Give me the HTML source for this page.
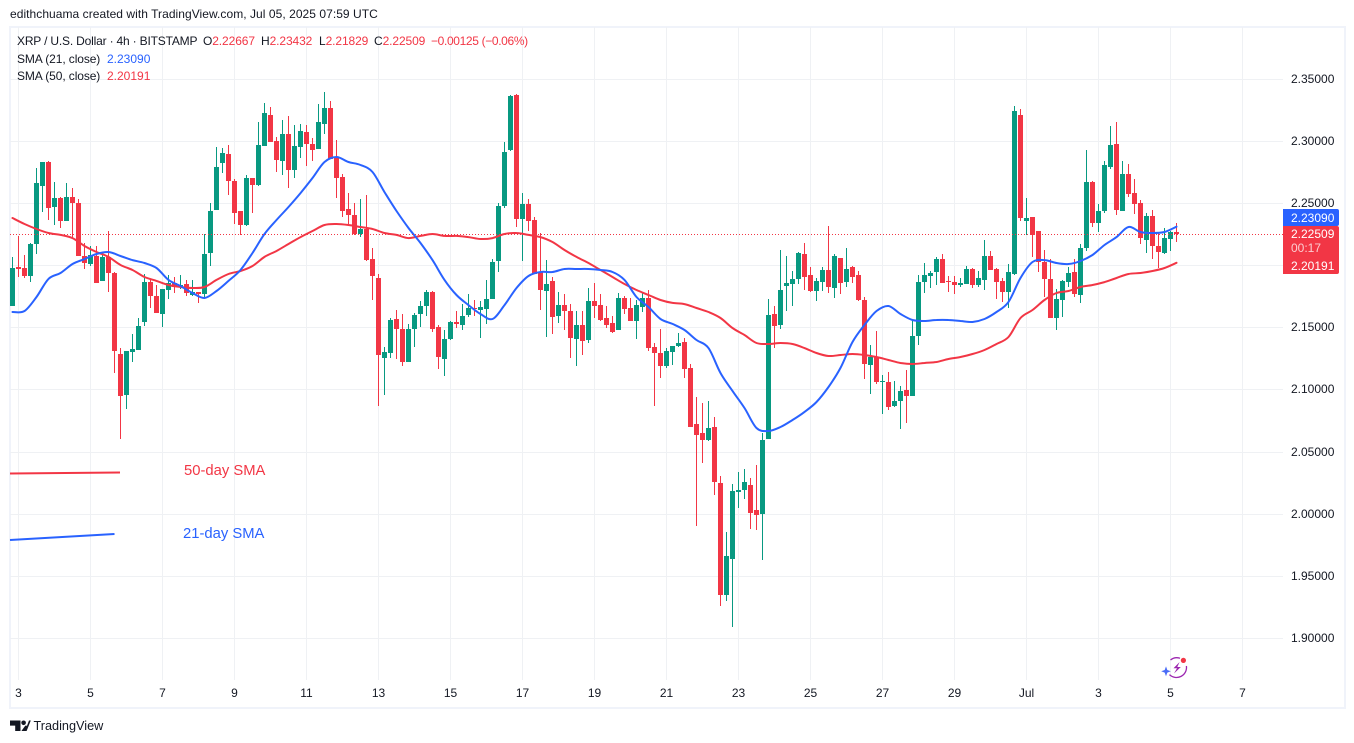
<!DOCTYPE html>
<html lang="en">
<head>
<meta charset="utf-8">
<title>XRP / U.S. Dollar 4h chart</title>
<style>
  html, body { margin: 0; padding: 0; background: #fff; }
  #page { position: relative; width: 1354px; height: 743px; overflow: hidden; background: #fff;
          font-family: "Liberation Sans", "DejaVu Sans", sans-serif; font-size: 12px; color: #131722; }
  #page svg { position: absolute; left: 0; top: 0; }
  .t { position: absolute; white-space: nowrap; line-height: 14px; }
  .red { color: #f23645; }
  .blue { color: #2962ff; }
  .badge { position: absolute; left: 1283px; width: 56px; color: #fff; text-align: left; }
  .badge span { position: absolute; left: 8px; line-height: 14px; white-space: nowrap; }
</style>
</head>
<body>
<div id="page">
  <svg id="chart" width="1354" height="743" viewBox="0 0 1354 743">
    <defs>
      <clipPath id="plot-clip"><rect x="10" y="27" width="1273" height="653"></rect></clipPath>
    </defs>
    <rect x="10" y="27" width="1335" height="681" fill="#fff" stroke="#f0f3fa" stroke-width="2"></rect>
    <g id="grid"></g>
    <g id="plot" clip-path="url(#plot-clip)">
      <g id="candles"></g>
      <g id="overlays"></g>
    </g>
    <line x1="10" y1="473.5" x2="120" y2="472.5" stroke="#f23645" stroke-width="2"></line>
    <line x1="10" y1="540" x2="114.5" y2="534" stroke="#2962ff" stroke-width="2"></line>
    <g id="axis-labels" font-family="'Liberation Sans','DejaVu Sans',sans-serif" font-size="12" fill="#131722"></g>

    <g>
      <path d="M1170.5 660 A10 10 0 0 1 1180 658.3 M1186.4 666 A10 10 0 0 1 1169.5 674.6" fill="none" stroke="#9c27b0" stroke-width="1.3"></path>
      <path d="M1179.6 662 L1173.5 668.3 L1177 668.3 L1174 673.5 L1180.8 667 L1177.3 667 Z" fill="#9c27b0"></path>
      <circle cx="1183.4" cy="660.4" r="2.6" fill="#f23645"></circle>
      <path d="M1166 666.4 L1167.3 670 L1170.8 671.3 L1167.3 672.6 L1166 676.2 L1164.7 672.6 L1161.2 671.3 L1164.7 670 Z" fill="#4a6cf7"></path>
    </g>

    <g fill="#131722">
      <path d="M10 720.5 H20.5 V731 H15.2 V725.6 H10 Z"></path>
      <circle cx="23.6" cy="722.8" r="2.3"></circle>
      <path d="M25 731 L29 720.5 H30.8 V720.5 L26.6 731 Z M21.4 731 L25.3 725.6 L26.8 725.6 L26.3 731 Z"></path>
    </g>
  </svg>

  <div class="t" style="left:10px;top:7px;letter-spacing:.05px;">edithchuama created with TradingView.com, Jul 05, 2025 07:59 UTC</div>

  <div class="t" style="left:17px;top:34px;letter-spacing:-.18px;">XRP / U.S. Dollar · 4h · BITSTAMP</div>
  <div class="t" style="left:203px;top:34px;letter-spacing:-.1px;">O<span class="red">2.22667</span></div>
  <div class="t" style="left:261px;top:34px;letter-spacing:-.1px;">H<span class="red">2.23432</span></div>
  <div class="t" style="left:319px;top:34px;letter-spacing:-.1px;">L<span class="red">2.21829</span></div>
  <div class="t" style="left:374px;top:34px;letter-spacing:-.1px;">C<span class="red">2.22509</span></div>
  <div class="t red" style="left:431px;top:34px;letter-spacing:-.35px;">−0.00125 (−0.06%)</div>
  <div class="t" style="left:17px;top:52px;letter-spacing:-.1px;">SMA (21, close)</div>
  <div class="t blue" style="left:107px;top:52px;">2.23090</div>
  <div class="t" style="left:17px;top:69px;letter-spacing:-.1px;">SMA (50, close)</div>
  <div class="t red" style="left:107px;top:69px;">2.20191</div>

  <div class="t red" style="left:184px;top:463px;font-size:14.8px;line-height:16px;">50-day SMA</div>
  <div class="t blue" style="left:183px;top:526px;font-size:14.8px;line-height:16px;">21-day SMA</div>

  <div class="badge" style="top:209px;height:17px;background:#2962ff;border-radius:0 2px 2px 0;"><span style="top:2px;">2.23090</span></div>
  <div class="badge" style="top:226px;height:47.5px;background:#f23645;border-radius:0 2px 2px 0;">
    <span style="top:1px;">2.22509</span>
    <span style="top:15px;opacity:.75;">00:17</span>
    <span style="top:33px;">2.20191</span>
  </div>

  <div class="t" style="left:33.5px;top:719px;font-size:12.7px;">TradingView</div>
</div>

<script>
var open = [
2.1668,2.1987,2.1978,2.1909,2.2174,2.2640,2.2831,2.2464,2.2541,2.2359,
2.2549,2.2501,2.2075,2.2013,2.2075,2.1874,2.2062,2.1938,2.1287,2.0952,
2.1303,2.1314,2.1539,2.1866,2.1753,2.1611,2.1802,2.1858,2.1834,2.1850,
2.1761,2.1786,2.1764,2.2094,2.2447,2.2823,2.2895,2.2678,2.2437,2.2319,
2.2702,2.2646,2.2962,2.3209,2.3000,2.2841,2.3056,2.2769,2.2954,2.3072,
2.2975,2.2938,2.3139,2.3265,2.2871,2.2710,2.2453,2.2405,2.2252,2.2292,
2.2051,2.1898,2.1250,2.1295,2.1568,2.1488,2.1223,2.1483,2.1609,2.1673,
2.1786,2.1504,2.1241,2.1408,2.1544,2.1520,2.1601,2.1654,2.1641,2.1649,
2.1729,2.2035,2.2477,2.2927,2.3369,2.2372,2.2493,2.2364,2.1946,2.1794,
2.1874,2.1593,2.1681,2.1633,2.1408,2.1520,2.1400,2.1713,2.1681,2.1576,
2.1536,2.1480,2.1737,2.1657,2.1552,2.1663,2.1735,2.1341,2.1293,2.1189,
2.1301,2.1349,2.1382,2.1172,2.0722,2.0650,2.0594,2.0698,2.0248,1.9347,
1.9637,2.0176,2.0192,2.0232,2.0031,1.9999,2.0602,2.1607,2.1519,2.1832,
2.1848,2.1889,2.2090,2.1921,2.1792,2.1865,2.1961,2.1816,2.2057,2.1865,
2.1985,2.1921,2.1720,2.1197,2.1262,2.1061,2.1061,2.0868,2.0908,2.0996,
2.0948,2.1430,2.1865,2.1913,2.1945,2.2049,2.1873,2.1865,2.1840,2.1848,
2.1969,2.1840,2.1881,2.2074,2.1969,2.1873,2.1784,2.1930,2.3208,2.2356,
2.2388,2.2276,2.2027,2.1890,2.1576,2.1721,2.1866,2.1946,2.1761,2.2139,
2.2670,2.2340,2.2437,2.2790,2.2975,2.2437,2.2734,2.2581,2.2501,2.2203,
2.2396,2.2155,2.2099,2.2211,2.2267];
var high = [
2.2062,2.2236,2.2083,2.2179,2.2782,2.2831,2.2839,2.2670,2.2549,2.2662,
2.2622,2.2533,2.2179,2.2155,2.2155,2.2102,2.2276,2.1946,2.1335,2.1311,
2.1448,2.1576,2.1930,2.1882,2.1842,2.1810,2.1920,2.1906,2.1922,2.1882,
2.1882,2.1786,2.2252,2.2501,2.2951,2.2943,2.2967,2.2694,2.2437,2.2726,
2.2702,2.3152,2.3305,2.3273,2.3032,2.3168,2.3201,2.3128,2.3136,2.3128,
2.3024,2.3297,2.3394,2.3321,2.3008,2.2734,2.2581,2.2501,2.2533,2.2565,
2.2139,2.1930,2.1343,2.1576,2.1641,2.1609,2.1528,2.1617,2.1713,2.1802,
2.1794,2.1520,2.1480,2.1552,2.1633,2.1689,2.1769,2.1721,2.1713,2.1882,
2.2051,2.2501,2.2992,2.3369,2.3377,2.2581,2.2533,2.2389,2.2260,2.2043,
2.1906,2.1786,2.1769,2.1689,2.1633,2.1633,2.1818,2.1858,2.1769,2.1673,
2.1593,2.1777,2.1753,2.1737,2.1721,2.1775,2.1800,2.1373,2.1486,2.1333,
2.1349,2.1454,2.1414,2.1205,2.0939,2.0891,2.0907,2.0779,2.0304,1.9854,
2.0240,2.0336,2.0360,2.0288,2.0393,2.0650,2.1728,2.1672,2.2122,2.2074,
2.1953,2.2106,2.2178,2.1985,2.1897,2.1985,2.2315,2.2090,2.2057,2.2138,
2.1993,2.1953,2.1744,2.1358,2.1471,2.1117,2.1141,2.1069,2.1028,2.1157,
2.1551,2.1921,2.2017,2.1953,2.2066,2.2090,2.1913,2.1913,2.1897,2.1993,
2.1977,2.1953,2.2202,2.2114,2.1977,2.1897,2.2009,2.3281,2.3257,2.2541,
2.2388,2.2276,2.2123,2.2051,2.1809,2.1882,2.1986,2.2051,2.2171,2.2927,
2.2678,2.2493,2.2839,2.3120,2.3152,2.2839,2.2814,2.2694,2.2525,2.2420,
2.2445,2.2260,2.2300,2.2276,2.2343];
var low = [
2.1668,2.1901,2.1893,2.1861,2.2086,2.2431,2.2367,2.2319,2.2295,2.2359,
2.2222,2.2070,2.1973,2.1997,2.1853,2.1874,2.1788,2.1129,2.0598,2.0839,
2.1223,2.1314,2.1507,2.1652,2.1619,2.1499,2.1724,2.1772,2.1812,2.1748,
2.1753,2.1692,2.1740,2.1997,2.2447,2.2742,2.2565,2.2335,2.2246,2.2311,
2.2423,2.2638,2.2962,2.2994,2.2750,2.2726,2.2624,2.2702,2.2863,2.2799,
2.2839,2.2938,2.3056,2.2852,2.2541,2.2389,2.2332,2.2244,2.2228,2.2035,
2.1716,2.0864,2.0952,2.1255,2.1247,2.1185,2.1223,2.1343,2.1504,2.1593,
2.1464,2.1166,2.1110,2.1400,2.1496,2.1480,2.1585,2.1593,2.1416,2.1528,
2.1729,2.1946,2.2461,2.2919,2.2308,2.2035,2.2276,2.1930,2.1641,2.1424,
2.1448,2.1536,2.1480,2.1255,2.1191,2.1279,2.1375,2.1576,2.1552,2.1496,
2.1456,2.1480,2.1609,2.1552,2.1408,2.1623,2.1309,2.0867,2.1092,2.1172,
2.1197,2.1341,2.1092,2.0698,1.9902,2.0409,2.0586,2.0151,1.9259,1.9299,
1.9090,2.0047,2.0119,1.9878,1.9870,1.9629,2.0602,2.1334,2.1487,2.1631,
2.1672,2.1848,2.1800,2.1784,2.1712,2.1792,2.1776,2.1736,2.1768,2.1824,
2.1856,2.1712,2.1085,2.0964,2.1044,2.0803,2.0835,2.0860,2.0683,2.0731,
2.0948,2.1358,2.1776,2.1816,2.1840,2.1856,2.1784,2.1768,2.1824,2.1848,
2.1816,2.1824,2.1800,2.1961,2.1728,2.1704,2.1655,2.1922,2.2356,2.2246,
2.2067,2.1946,2.1745,2.1576,2.1480,2.1584,2.1826,2.1745,2.1697,2.2115,
2.2308,2.2268,2.2420,2.2774,2.2404,2.2437,2.2549,2.2412,2.2171,2.2099,
2.2051,2.1978,2.2091,2.2115,2.2183];
var close = [
2.1978,2.1970,2.1909,2.2171,2.2662,2.2831,2.2456,2.2541,2.2359,2.2549,
2.2504,2.2070,2.2021,2.2078,2.1858,2.2067,2.1933,2.1306,2.0944,2.1311,
2.1327,2.1512,2.1866,2.1748,2.1619,2.1810,2.1858,2.1828,2.1842,2.1772,
2.1786,2.1764,2.2091,2.2437,2.2791,2.2903,2.2681,2.2423,2.2319,2.2702,
2.2648,2.2967,2.3225,2.2994,2.2849,2.3056,2.2769,2.2959,2.3080,2.2978,
2.2930,2.3152,2.3265,2.2855,2.2705,2.2439,2.2407,2.2249,2.2292,2.2043,
2.1909,2.1274,2.1303,2.1560,2.1483,2.1223,2.1488,2.1601,2.1673,2.1786,
2.1488,2.1258,2.1408,2.1544,2.1528,2.1593,2.1657,2.1649,2.1665,2.1729,
2.2027,2.2477,2.2911,2.3361,2.2372,2.2493,2.2356,2.1930,2.1802,2.1850,
2.1585,2.1681,2.1633,2.1416,2.1520,2.1392,2.1713,2.1673,2.1560,2.1520,
2.1464,2.1737,2.1649,2.1552,2.1681,2.1735,2.1333,2.1293,2.1189,2.1309,
2.1349,2.1373,2.1164,2.0698,2.0634,2.0594,2.0690,2.0256,1.9347,1.9661,
2.0184,2.0192,2.0256,2.0007,1.9991,2.0594,2.1599,2.1511,2.1800,2.1856,
2.1889,2.2098,2.1905,2.1792,2.1873,2.1961,2.1824,2.2074,2.1856,2.1969,
2.1905,2.1720,2.1205,2.1262,2.1061,2.1069,2.0860,2.0908,2.0988,2.0948,
2.1430,2.1865,2.1921,2.1937,2.2049,2.1856,2.1865,2.1840,2.1856,2.1969,
2.1840,2.1897,2.2074,2.1961,2.1865,2.1784,2.1945,2.3241,2.2380,2.2380,
2.2244,2.2027,2.1890,2.1576,2.1729,2.1874,2.1938,2.1769,2.2139,2.2670,
2.2340,2.2437,2.2806,2.2967,2.2445,2.2734,2.2573,2.2493,2.2219,2.2396,
2.2155,2.2107,2.2219,2.2268,2.2251];
/* SMA values are sampled at every second candle */
var sma21 = [
2.1623,2.1631,2.1744,2.1889,2.1937,2.2009,2.2049,2.2090,2.2106,2.2074,
2.2041,2.2017,2.1977,2.1881,2.1832,2.1776,2.1736,2.1792,2.1873,2.1961,
2.2098,2.2251,2.2363,2.2468,2.2580,2.2701,2.2830,2.2870,2.2830,2.2806,
2.2749,2.2588,2.2436,2.2299,2.2178,2.2041,2.1881,2.1760,2.1679,2.1607,
2.1567,2.1679,2.1816,2.1913,2.1945,2.1945,2.1969,2.1969,2.1969,2.1961,
2.1945,2.1881,2.1744,2.1663,2.1567,2.1527,2.1478,2.1398,2.1333,2.1132,
2.0988,2.0851,2.0690,2.0666,2.0698,2.0754,2.0819,2.0899,2.1020,2.1173,
2.1382,2.1519,2.1631,2.1671,2.1607,2.1559,2.1551,2.1559,2.1559,2.1551,
2.1543,2.1567,2.1623,2.1704,2.1897,2.2025,2.2041,2.2017,2.2009,2.2033,
2.2082,2.2162,2.2226,2.2307,2.2267,2.2259,2.2267,2.2309];
var sma50 = [
2.2379,2.2331,2.2291,2.2259,2.2243,2.2218,2.2154,2.2106,2.2066,2.2001,
2.1961,2.1905,2.1873,2.1840,2.1824,2.1816,2.1824,2.1881,2.1929,2.1953,
2.1993,2.2066,2.2114,2.2170,2.2226,2.2275,2.2323,2.2331,2.2323,2.2307,
2.2291,2.2259,2.2243,2.2218,2.2235,2.2251,2.2235,2.2235,2.2226,2.2210,
2.2218,2.2251,2.2259,2.2243,2.2226,2.2186,2.2122,2.2066,2.2017,2.1961,
2.1905,2.1848,2.1800,2.1760,2.1720,2.1696,2.1687,2.1655,2.1623,2.1575,
2.1494,2.1438,2.1374,2.1366,2.1374,2.1366,2.1333,2.1293,2.1269,2.1277,
2.1285,2.1277,2.1261,2.1237,2.1213,2.1205,2.1213,2.1221,2.1245,2.1261,
2.1285,2.1317,2.1366,2.1422,2.1575,2.1639,2.1720,2.1776,2.1792,2.1824,
2.1840,2.1864,2.1897,2.1929,2.1937,2.1953,2.1977,2.2019];
var priceTicks = ["2.35000","2.30000","2.25000","2.20000","2.15000","2.10000","2.05000","2.00000","1.95000","1.90000"];
var timeLabels = ["3","5","7","9","11","13","15","17","19","21","23","25","27","29","Jul","3","5","7"];
var lastPrice = 2.22509;

var SVGNS = "http://www.w3.org/2000/svg";
var GREEN = "#089981";
var RED = "#f23645";
function yOf(p) { return 203 + (2.25 - p) * 1243; }
function xOf(i) { return 12 + 6 * i; }
function make(tag, parent) {
  var el = document.createElementNS(SVGNS, tag);
  parent.appendChild(el);
  return el;
}

var gridG = document.getElementById("grid");
var axisG = document.getElementById("axis-labels");
var candleG = document.getElementById("candles");
var overlayG = document.getElementById("overlays");

priceTicks.forEach(function (label) {
  var y = Math.round(yOf(parseFloat(label)));
  var gl = make("rect", gridG);
  
  
  gl.setAttribute("x", 10);
  gl.setAttribute("y", y);
  gl.setAttribute("width", 1273);
  gl.setAttribute("height", 1);
  gl.setAttribute("fill", "#eff1f4");
  var t = make("text", axisG);
  
  
  t.setAttribute("x", 1291);
  t.setAttribute("y", y + 4);
  t.textContent = label;
});

timeLabels.forEach(function (label, k) {
  var idx = 1 + 12 * k;
  var x = xOf(idx);
  var gl = make("rect", gridG);
  
  
  gl.setAttribute("x", x);
  gl.setAttribute("y", 27);
  gl.setAttribute("width", 1);
  gl.setAttribute("height", 653);
  gl.setAttribute("fill", "#eff1f4");
  var t = make("text", axisG);
  
  
  t.setAttribute("x", x + 0.5);
  t.setAttribute("y", 697);
  t.setAttribute("text-anchor", "middle");
  t.textContent = label;
});

open.forEach(function (o, i) {
  var c = close[i];
  var color = c >= o ? GREEN : RED;
  var x = xOf(i);
  var g = make("g", candleG);
  
  
  g.setAttribute("shape-rendering", "crispEdges");
  var yh = Math.round(yOf(high[i]));
  var yl = Math.round(yOf(low[i]));
  var wick = make("rect", g);
  
  
  wick.setAttribute("x", x);
  wick.setAttribute("y", yh);
  wick.setAttribute("width", 1);
  wick.setAttribute("height", Math.max(1, yl - yh));
  wick.setAttribute("fill", color);
  var yt = Math.round(yOf(Math.max(o, c)));
  var yb = Math.round(yOf(Math.min(o, c)));
  var body = make("rect", g);
  
  
  body.setAttribute("x", x - 2);
  body.setAttribute("y", yt);
  body.setAttribute("width", 5);
  body.setAttribute("height", Math.max(1, yb - yt));
  body.setAttribute("fill", color);
});

function drawSma(values, color, name) {
  var pts = values.map(function (v, k) {
    return [xOf(k * 2) + 0.5, yOf(v)];
  });
  var d = "M" + pts[0][0] + " " + pts[0][1].toFixed(1);
  for (var k = 0; k < pts.length - 1; k++) {
    var p0 = pts[Math.max(0, k - 1)];
    var p1 = pts[k];
    var p2 = pts[k + 1];
    var p3 = pts[Math.min(pts.length - 1, k + 2)];
    d += " C" + (p1[0] + (p2[0] - p0[0]) / 6).toFixed(1) + " " + (p1[1] + (p2[1] - p0[1]) / 6).toFixed(1) +
         " " + (p2[0] - (p3[0] - p1[0]) / 6).toFixed(1) + " " + (p2[1] - (p3[1] - p1[1]) / 6).toFixed(1) +
         " " + p2[0] + " " + p2[1].toFixed(1);
  }
  var line = make("path", overlayG);
  
  
  line.setAttribute("d", d);
  line.setAttribute("fill", "none");
  line.setAttribute("stroke", color);
  line.setAttribute("stroke-width", 2);
  line.setAttribute("stroke-linejoin", "round");
  line.setAttribute("stroke-linecap", "round");
}
drawSma(sma50, RED, "sma-50-line");
drawSma(sma21, "#2962ff", "sma-21-line");

var priceLine = make("line", document.getElementById("plot"));


priceLine.setAttribute("x1", 10);
priceLine.setAttribute("x2", 1283);
priceLine.setAttribute("y1", Math.round(yOf(lastPrice)) + 0.5);
priceLine.setAttribute("y2", Math.round(yOf(lastPrice)) + 0.5);
priceLine.setAttribute("stroke", RED);
priceLine.setAttribute("stroke-width", 1);
priceLine.setAttribute("stroke-dasharray", "1 2");
</script>
</body>
</html>
